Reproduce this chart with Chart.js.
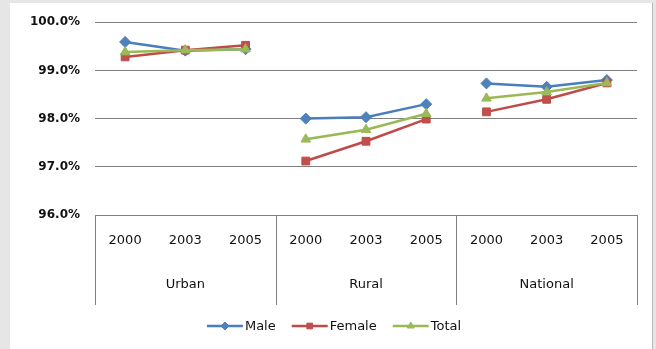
<!DOCTYPE html>
<html>
<head>
<meta charset="utf-8">
<script src="https://cdn.jsdelivr.net/npm/chart.js@4/dist/chart.umd.min.js"></script>
<style>
  html, body { margin: 0; padding: 0; background: #e6e6e6; }
  #wrap { width: 656px; height: 349px; }
</style>
</head>
<body>
<div id="wrap"><canvas id="c" width="656" height="349"></canvas></div>
<script>
// Literacy rate by area and year (%)
const years = ['2000', '2003', '2005'];
const areas = ['Urban', 'Rural', 'National'];
const yTicks = [96, 97, 98, 99, 100];

const maleRate   = [99.59, 99.41, 99.44, 98.00, 98.03, 98.30, 98.73, 98.66, 98.80];
const femaleRate = [99.28, 99.42, 99.52, 97.12, 97.53, 97.99, 98.14, 98.40, 98.74];
const totalRate  = [99.38, 99.42, 99.44, 97.57, 97.77, 98.10, 98.42, 98.55, 98.74];

const seriesNames = ['Male', 'Female', 'Total'];
const lineColors  = ['#4A7EBB', '#BE4B48', '#98B954'];
const fillColors  = ['#4F81BD', '#C0504D', '#9BBB59'];
const markers     = ['rectRot', 'rect', 'triangle'];
const markerSize  = [5.5, 5.5, 5.5];

// one category per (area, year) pair
const labels = [];
areas.forEach(() => years.forEach(y => labels.push(y)));

const FONT = 'DejaVu Sans';
const TEXT = '#111111';

// lines break between areas
function segColor(color) {
  return ctx => (ctx.p0DataIndex % years.length === years.length - 1 ? 'rgba(0,0,0,0)' : color);
}

function makeDataset(i, values, order) {
  return {
    label: seriesNames[i],
    data: values,
    borderColor: lineColors[i],
    backgroundColor: fillColors[i],
    pointBackgroundColor: fillColors[i],
    pointBorderColor: lineColors[i],
    pointStyle: markers[i],
    pointRadius: markerSize[i],
    pointBorderWidth: 1,
    borderWidth: 2.5,
    tension: 0,
    order: order,
    segment: { borderColor: segColor(lineColors[i]) }
  };
}

// panel background, area boxes, area names and legend
const decor = {
  id: 'decor',
  beforeDraw(chart) {
    const ctx = chart.ctx;
    ctx.save();
    ctx.fillStyle = '#e6e6e6';
    ctx.fillRect(0, 0, chart.width, chart.height);
    ctx.fillStyle = '#ffffff';
    ctx.fillRect(10, 3, 642, chart.height - 3);
    ctx.fillStyle = '#b8b8b8';
    ctx.fillRect(652, 3, 1, chart.height - 3);
    ctx.restore();
  },
  afterDraw(chart) {
    const ctx = chart.ctx;
    const xs = chart.scales.x;
    const area = chart.chartArea;
    const boxBottom = 305;
    ctx.save();
    ctx.strokeStyle = '#808080';
    ctx.lineWidth = 1;
    // vertical separators between areas
    const bounds = [area.left];
    for (let g = 1; g < areas.length; g++) {
      const a = xs.getPixelForValue(g * years.length - 1);
      const b = xs.getPixelForValue(g * years.length);
      bounds.push((a + b) / 2);
    }
    bounds.push(area.right);
    bounds.forEach(x => {
      const px = Math.round(x) + 0.5;
      ctx.beginPath();
      ctx.moveTo(px, area.bottom);
      ctx.lineTo(px, boxBottom);
      ctx.stroke();
    });
    // area names
    ctx.fillStyle = TEXT;
    ctx.font = '13px "' + FONT + '"';
    ctx.textAlign = 'center';
    ctx.textBaseline = 'middle';
    areas.forEach((name, g) => {
      const x = xs.getPixelForValue(g * years.length + 1);
      ctx.fillText(name, x, 285);
    });

    // legend: line with marker, then series name
    const lineLen = 36, gap = 2, itemGap = 16, cy = 326;
    const widths = seriesNames.map(n => lineLen + gap + ctx.measureText(n).width);
    const total = widths.reduce((s, w) => s + w, 0) + itemGap * (seriesNames.length - 1);
    let x = 334 - total / 2;
    ctx.textAlign = 'left';
    seriesNames.forEach((n, i) => {
      ctx.strokeStyle = lineColors[i];
      ctx.lineWidth = 2.5;
      ctx.beginPath();
      ctx.moveTo(x, cy);
      ctx.lineTo(x + lineLen, cy);
      ctx.stroke();
      ctx.fillStyle = fillColors[i];
      ctx.lineWidth = 1;
      Chart.helpers.drawPoint(ctx, { pointStyle: markers[i], radius: 4, borderWidth: 1, rotation: 0 }, x + lineLen / 2, cy);
      ctx.fillStyle = TEXT;
      ctx.fillText(n, x + lineLen + gap, cy + 0.5);
      x += widths[i] + itemGap;
    });
    ctx.restore();
  }
};

new Chart(document.getElementById('c'), {
  type: 'line',
  data: {
    labels: labels,
    datasets: [
      makeDataset(0, maleRate, 2),
      makeDataset(1, femaleRate, 1),
      makeDataset(2, totalRate, 0)
    ]
  },
  options: {
    responsive: false,
    animation: false,
    devicePixelRatio: 1,
    layout: { padding: { top: 20, right: 19, left: 0, bottom: 0 } },
    plugins: { legend: { display: false }, tooltip: { enabled: false } },
    scales: {
      x: {
        type: 'category',
        offset: true,
        grid: { display: false, drawTicks: false },
        border: { display: false },
        ticks: {
          color: TEXT,
          font: { family: FONT, size: 13 },
          padding: 18,
          maxRotation: 0,
          autoSkip: false
        },
        afterFit(scale) { scale.height = 134; }
      },
      y: {
        min: yTicks[0],
        max: yTicks[yTicks.length - 1],
        afterBuildTicks(scale) { scale.ticks = yTicks.map(v => ({ value: v })); },
        grid: { color: '#808080', lineWidth: 1, drawTicks: false },
        border: { display: false },
        ticks: {
          color: TEXT,
          font: { family: FONT, size: 12, weight: 'bold' },
          padding: 15,
          callback: v => Number(v).toFixed(1) + '%'
        },
        afterFit(scale) { scale.width = 95; }
      }
    }
  },
  plugins: [decor]
});
</script>
</body>
</html>
